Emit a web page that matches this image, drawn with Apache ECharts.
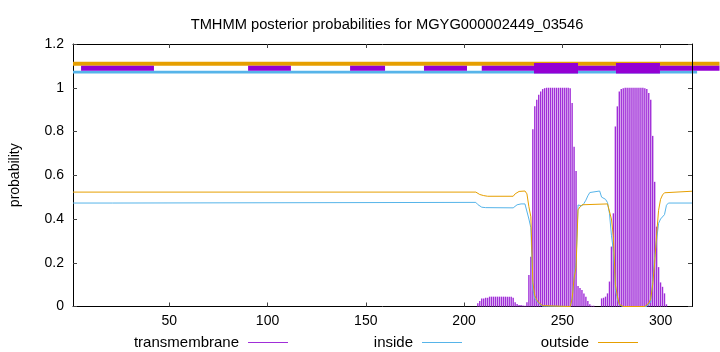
<!DOCTYPE html>
<html><head><meta charset="utf-8">
<script src="https://cdn.jsdelivr.net/npm/echarts@6/dist/echarts.min.js"></script>
<style>html,body{margin:0;padding:0;background:#fff}#c{width:720px;height:352px}</style>
</head><body><div id="c"></div>
<script>
const xTicks = [50, 100, 150, 200, 250, 300];
const yTicks = [0, 0.2, 0.4, 0.6, 0.8, 1, 1.2];

const tmProb = [
[207,0.015],[208,0.025],[209,0.037],[210,0.037],[211,0.04],[212,0.04],[213,0.045],[214,0.045],[215,0.045],[216,0.045],
[217,0.045],[218,0.045],[219,0.045],[220,0.045],[221,0.045],[222,0.045],[223,0.045],[224,0.045],[225,0.04],[226,0.02],
[227,0.012],[228,0.007],[229,0.007],[230,0.005],[231,0.003],[232,0.02],[233,0.144],[234,0.228],[235,0.81],[236,0.915],
[237,0.945],[238,0.968],[239,0.983],[240,0.994],[241,0.998],[242,1],[243,1],[244,1],[245,1],[246,1],[247,1],[248,1],
[249,1],[250,1],[251,1],[252,1],[253,1],[254,0.998],[255,0.93],[256,0.73],[257,0.62],[258,0.094],[259,0.085],[260,0.075],
[261,0.06],[262,0.045],[263,0.025],[264,0.01],[265,0.003],[266,0.003],
[270,0.037],[271,0.04],[272,0.045],[273,0.06],[274,0.114],[275,0.274],[276,0.426],[277,0.823],[278,0.915],[279,0.983],
[280,0.994],[281,0.998],[282,1],[283,1],[284,1],[285,1],[286,1],[287,1],[288,1],[289,1],[290,1],[291,1],[292,0.998],
[293,0.994],[294,0.976],[295,0.945],[296,0.78],[297,0.57],[298,0.365],[299,0.18],[300,0.11],[301,0.09],[302,0.06],[303,0.01]
];

const insideProb = [
[1,0.473],[21,0.473],[22,0.476],[206,0.476],[207,0.466],[208,0.458],[209,0.454],[210,0.453],[211,0.452],[212,0.451],
[225,0.451],[226,0.46],[227,0.465],[228,0.467],[229,0.469],[231,0.469],[232,0.465],[233,0.40],[234,0.36],[235,0.08],
[236,0.035],[237,0.025],[238,0.014],[239,0.007],[240,0.002],[241,0],[254,0],[255,0.035],[256,0.14],[257,0.2],
[258,0.464],[259,0.46],[260,0.46],[261,0.471],[262,0.486],[263,0.506],[264,0.521],[265,0.528],[269,0.528],[270,0.50],
[271,0.495],[272,0.49],[273,0.475],[274,0.426],[275,0.326],[276,0.254],[277,0.077],[278,0.035],[279,0.007],[280,0.002],
[281,0],[293,0],[294,0.009],[295,0.02],[296,0.12],[297,0.23],[298,0.305],[299,0.38],[300,0.40],[301,0.40],[302,0.42],
[303,0.463],[304,0.473],[316,0.473]
];

const outsideProb = [
[1,0.523],[206,0.523],[207,0.518],[208,0.512],[209,0.509],[210,0.507],[211,0.505],[212,0.504],[225,0.504],[226,0.515],
[227,0.522],[228,0.526],[229,0.528],[231,0.528],[232,0.515],[233,0.456],[234,0.41],[235,0.11],[236,0.05],[237,0.03],
[238,0.018],[239,0.01],[240,0.004],[241,0],[254,0],[255,0.035],[256,0.13],[257,0.18],[258,0.442],[259,0.455],
[260,0.465],[261,0.469],[273,0.469],[274,0.46],[275,0.40],[276,0.32],[277,0.10],[278,0.05],[279,0.01],[280,0.004],
[281,0],[292,0],[293,0.005],[294,0.015],[295,0.035],[296,0.1],[297,0.2],[298,0.33],[299,0.44],[300,0.49],[301,0.51],
[302,0.52],[303,0.527],[316,0.527]
];

// topology strips at the top (start, end residue)
const outsideBand = [[1, 330]];
const insideBand = [[1, 318.6]];
const membraneBand = [[5.1,42.2],[90.1,111.9],[142,159.8],[179.6,201.5],[209,235.6],[258,277.3],[299.7,330]];
const helixBand = [[235.6,258],[277.3,299.7]];

const FONT = 'Liberation Sans, Arial, sans-serif';
const C_TM = '#9400D3', C_IN = '#56B4E9', C_OUT = '#E69F00';

function bandSeries(data, color, yTop, yBot) {
  return {
    type: 'custom', data: data, clip: false, silent: true,
    encode: { x: [0, 1] },
    renderItem: function (params, api) {
      const p0 = api.coord([api.value(0), yTop]);
      const p1 = api.coord([api.value(1), yBot]);
      return { type: 'rect', shape: { x: p0[0], y: p0[1], width: p1[0] - p0[0], height: p1[1] - p0[1] }, style: { fill: color } };
    }
  };
}

const chart = echarts.init(document.getElementById('c'), null, { renderer: 'canvas' });
const axisCommon = {
  axisLine: { show: true, onZero: false, lineStyle: { color: '#000', width: 1 } },
  splitLine: { show: false }
};
const legendText = { fontFamily: FONT, fontSize: 15, color: '#000', padding: [0, 4, 0, 0] };
chart.setOption({
  animation: false,
  backgroundColor: '#fff',
  title: {
    text: 'TMHMM posterior probabilities for MGYG000002449_03546',
    left: 382, top: 12, textAlign: 'center',
    textStyle: { fontFamily: FONT, fontSize: 14.7, fontWeight: 'normal', color: '#000' }
  },
  grid: { left: 73, right: 28, top: 44, bottom: 45.5 },
  legend: [
    { data: [{ name: 'transmembrane', icon: 'rect' }], right: 427, top: 330, align: 'right', itemWidth: 40, itemHeight: 1, textStyle: legendText },
    { data: [{ name: 'inside', icon: 'rect' }], right: 253, top: 330, align: 'right', itemWidth: 40, itemHeight: 1, textStyle: legendText },
    { data: [{ name: 'outside', icon: 'rect' }], right: 77, top: 330, align: 'right', itemWidth: 40, itemHeight: 1, textStyle: legendText }
  ],
  xAxis: [
    Object.assign({ type: 'value', min: 1, max: 316, position: 'bottom',
      axisTick: { inside: true, length: 4, customValues: xTicks, lineStyle: { color: '#444' } },
      axisLabel: { customValues: xTicks, fontFamily: FONT, fontSize: 14, color: '#000', margin: 8 } }, axisCommon),
    Object.assign({ type: 'value', min: 1, max: 316, position: 'top',
      axisTick: { inside: true, length: 4, customValues: xTicks, lineStyle: { color: '#444' } },
      axisLabel: { show: false } }, axisCommon)
  ],
  yAxis: [
    Object.assign({ type: 'value', min: 0, max: 1.2, interval: 0.2, position: 'left',
      name: 'probability', nameLocation: 'middle', nameGap: 51,
      nameTextStyle: { fontFamily: FONT, fontSize: 14, color: '#000' },
      axisTick: { inside: true, length: 4, lineStyle: { color: '#444' } },
      axisLabel: { fontFamily: FONT, fontSize: 14, color: '#000', margin: 9 } }, axisCommon),
    Object.assign({ type: 'value', min: 0, max: 1.2, interval: 0.2, position: 'right', z: 10,
      axisTick: { inside: true, length: 4, lineStyle: { color: '#444' } },
      axisLabel: { show: false } }, axisCommon)
  ],
  series: [
    bandSeries(outsideBand, C_OUT, 1.119, 1.1007),
    bandSeries(insideBand, C_IN, 1.0778, 1.0654),
    bandSeries(membraneBand, C_TM, 1.1007, 1.0778),
    bandSeries(helixBand, C_TM, 1.113, 1.0654),
    { name: 'transmembrane', type: 'bar', data: tmProb, barWidth: 1.4, itemStyle: { color: '#a02ed8' }, z: 2 },
    { name: 'inside', type: 'line', data: insideProb, showSymbol: false, symbol: 'none', lineStyle: { color: C_IN, width: 1 }, itemStyle: { color: C_IN }, z: 3 },
    { name: 'outside', type: 'line', data: outsideProb, showSymbol: false, symbol: 'none', lineStyle: { color: C_OUT, width: 1 }, itemStyle: { color: C_OUT }, z: 3 }
  ]
});
</script></body></html>
